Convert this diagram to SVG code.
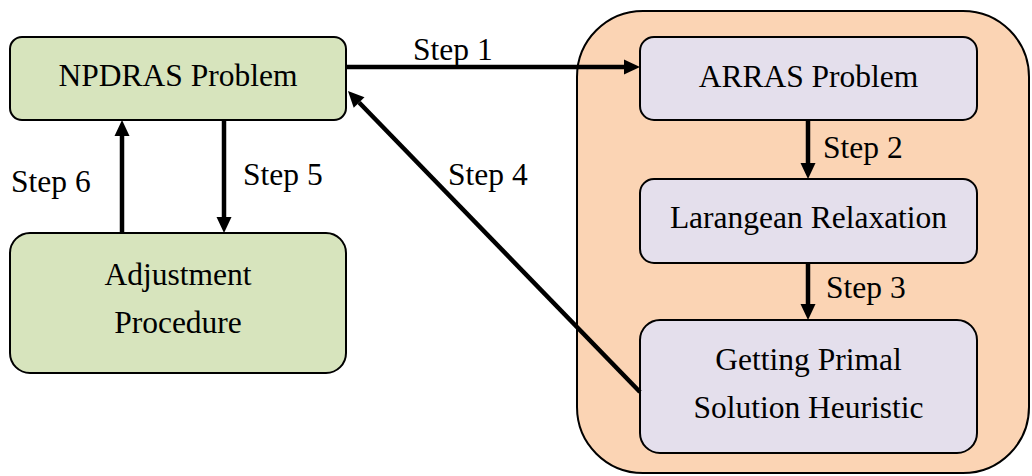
<svg xmlns="http://www.w3.org/2000/svg" width="1032" height="476" viewBox="0 0 1032 476">
  <defs>
    <marker id="head" markerUnits="userSpaceOnUse" markerWidth="18" markerHeight="18" refX="0" refY="0" viewBox="0 -9 18 18" orient="auto" overflow="visible">
      <path d="M0,-7.5 L16,0 L0,7.5 Z" fill="#000"/>
    </marker>
    <style>
      .lbl { font-family: "Liberation Serif", "Times New Roman", serif; font-size: 31.5px; fill: #000; text-anchor: middle; }
      .step { font-family: "Liberation Serif", "Times New Roman", serif; font-size: 31.5px; fill: #000; }
      .green { fill: #d7e4bd; stroke: #000; stroke-width: 2; }
      .lav { fill: #e4dfec; stroke: #000; stroke-width: 2; }
      .outer { fill: #fbd4b4; stroke: #000; stroke-width: 2; }
      .conn { stroke: #000; stroke-width: 4.5; fill: none; marker-end: url(#head); }
    </style>
  </defs>
  <rect width="1032" height="476" fill="#fff"/>

  <!-- container around the ARRAS sub-process -->
  <g id="arras-group">
    <rect class="outer" x="577" y="11" width="452" height="462" rx="66" ry="66"/>
  </g>

  <g id="npdras">
    <rect class="green" x="10" y="37" width="336" height="83" rx="12" ry="12"/>
    <text class="lbl" x="178" y="86">NPDRAS Problem</text>
  </g>

  <g id="adjustment">
    <rect class="green" x="10" y="233" width="336" height="140" rx="20" ry="20"/>
    <text class="lbl" x="178" y="285">Adjustment</text>
    <text class="lbl" x="178" y="333">Procedure</text>
  </g>

  <g id="arras">
    <rect class="lav" x="640" y="37" width="337" height="83" rx="14" ry="14"/>
    <text class="lbl" x="808.5" y="87">ARRAS Problem</text>
  </g>

  <g id="lagrangean">
    <rect class="lav" x="640" y="179" width="337" height="84" rx="14" ry="14"/>
    <text class="lbl" x="808.5" y="228">Larangean Relaxation</text>
  </g>

  <g id="primal">
    <rect class="lav" x="640" y="320" width="337" height="133" rx="20" ry="20"/>
    <text class="lbl" x="808.5" y="370">Getting Primal</text>
    <text class="lbl" x="808.5" y="418">Solution Heuristic</text>
  </g>

  <g id="connectors">
    <line class="conn" x1="346" y1="67" x2="624" y2="67"/>
    <line class="conn" x1="808" y1="120" x2="808" y2="163"/>
    <line class="conn" x1="808" y1="263" x2="808" y2="304"/>
    <line class="conn" x1="640" y1="392" x2="359.1" y2="102.5"/>
    <line class="conn" x1="224" y1="120" x2="224" y2="217"/>
    <line class="conn" x1="122" y1="233" x2="122" y2="136"/>
  </g>

  <g id="step-labels">
    <text class="step" x="413" y="60">Step 1</text>
    <text class="step" x="823" y="158">Step 2</text>
    <text class="step" x="826" y="298">Step 3</text>
    <text class="step" x="448" y="185">Step 4</text>
    <text class="step" x="243" y="185">Step 5</text>
    <text class="step" x="11" y="192">Step 6</text>
  </g>
</svg>
